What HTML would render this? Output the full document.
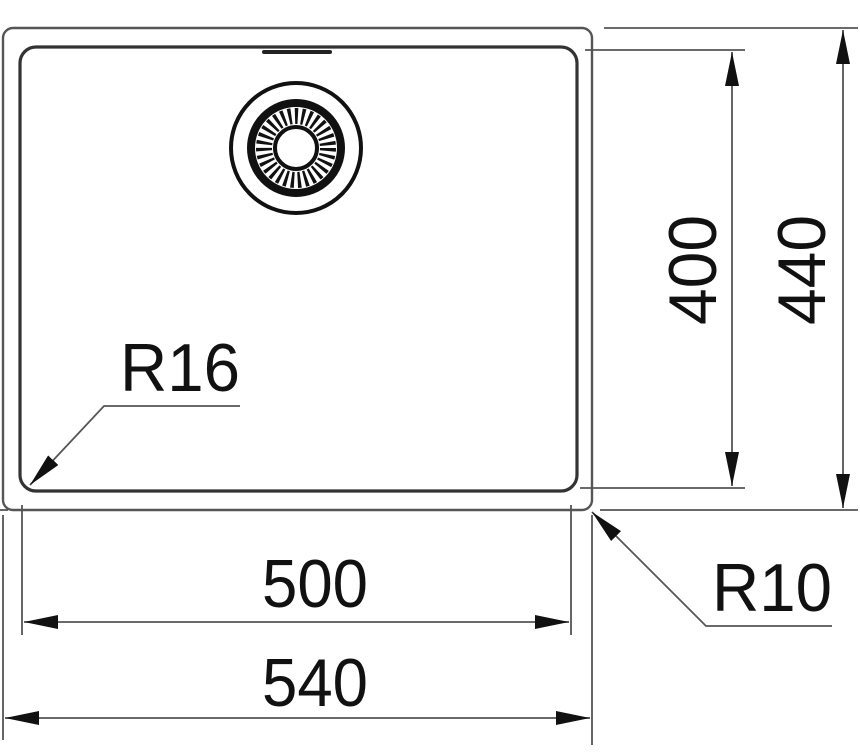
<!DOCTYPE html>
<html><head><style>html,body{margin:0;padding:0;background:#fff;}svg{display:block}</style></head>
<body>
<svg width="860" height="756" viewBox="0 0 860 756" xmlns="http://www.w3.org/2000/svg">
<defs>
<marker id="a" viewBox="0 0 10 10" refX="10" refY="5" markerWidth="34" markerHeight="14" markerUnits="userSpaceOnUse" orient="auto-start-reverse" preserveAspectRatio="none">
<path d="M0,0 L10,5 L0,10 z" fill="#111"/></marker>
</defs>
<g fill="none" stroke="#555" stroke-width="2.4">
<rect x="3" y="28" width="589" height="482" rx="10"/>
<rect x="20" y="47" width="557" height="444" rx="16" stroke="#333" stroke-width="3.2"/>
</g>
<line x1="264" y1="52" x2="330" y2="52" stroke="#222" stroke-width="4" stroke-linecap="round"/>
<circle cx="296" cy="148" r="65" fill="none" stroke="#111" stroke-width="4"/>
<circle cx="296" cy="148" r="45" fill="none" stroke="#111" stroke-width="8"/>
<circle cx="296" cy="148" r="32" fill="none" stroke="#111" stroke-width="16" stroke-dasharray="3 3.5"/>
<circle cx="296" cy="148" r="21" fill="none" stroke="#111" stroke-width="4"/>
<g stroke="#555" stroke-width="1.8" fill="none">
<line x1="585" y1="50" x2="745" y2="50"/>
<line x1="580" y1="488" x2="745" y2="488"/>
<line x1="732" y1="52" x2="732" y2="486" marker-start="url(#a)" marker-end="url(#a)"/>
<line x1="604" y1="28" x2="858" y2="28"/>
<line x1="600" y1="510" x2="858" y2="510"/>
<line x1="843" y1="30" x2="843" y2="508" marker-start="url(#a)" marker-end="url(#a)"/>
<line x1="0" y1="510" x2="8" y2="510"/>
<line x1="22" y1="505" x2="22" y2="635"/>
<line x1="571" y1="505" x2="571" y2="635"/>
<line x1="24" y1="622" x2="569" y2="622" marker-start="url(#a)" marker-end="url(#a)"/>
<line x1="3" y1="515" x2="3" y2="740"/>
<line x1="592" y1="515" x2="592" y2="745"/>
<line x1="5" y1="718" x2="590" y2="718" marker-start="url(#a)" marker-end="url(#a)"/>
<polyline points="832,626 706,626 592,512" marker-end="url(#a)"/>
<polyline points="240,406 104,406 30,485" marker-end="url(#a)"/>
</g>
<g font-family="Liberation Sans, sans-serif" font-size="68" fill="#111">
<text x="262" y="607" textLength="106" lengthAdjust="spacingAndGlyphs">500</text>
<text x="262" y="706" textLength="106" lengthAdjust="spacingAndGlyphs">540</text>
<text x="120" y="391" textLength="120" lengthAdjust="spacingAndGlyphs">R16</text>
<text x="712" y="611" textLength="120" lengthAdjust="spacingAndGlyphs">R10</text>
<text transform="translate(716,325) rotate(-90)" textLength="110" lengthAdjust="spacingAndGlyphs">400</text>
<text transform="translate(825,325) rotate(-90)" textLength="110" lengthAdjust="spacingAndGlyphs">440</text>
</g>
</svg>
</body></html>
